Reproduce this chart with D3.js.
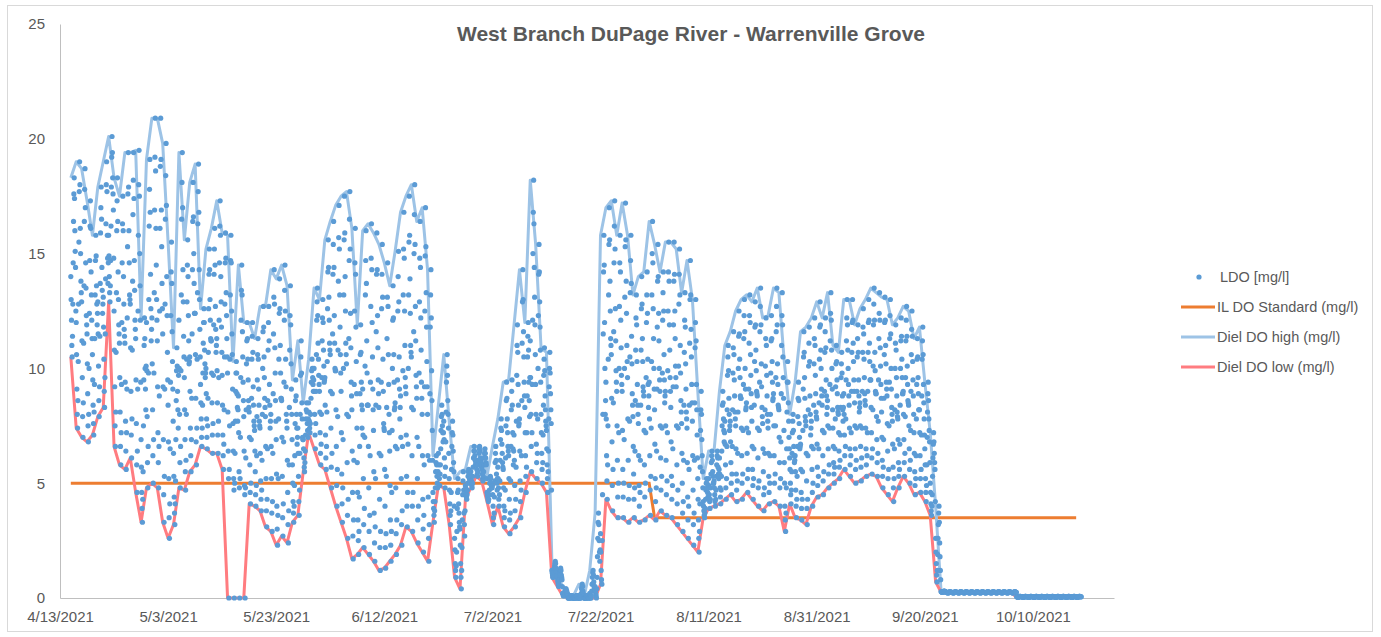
<!DOCTYPE html>
<html><head><meta charset="utf-8">
<script src="https://cdn.jsdelivr.net/npm/d3@7"></script>
<style>
body{margin:0;background:#fff;}
svg text{font-family:"Liberation Sans",Arial,sans-serif;fill:#595959;}
</style>
</head><body>
<svg id="chart" width="1381" height="637"></svg>
<script>
// ---------------- data ----------------
const chartTitle = "West Branch DuPage River - Warrenville Grove";
const seriesNames = ["LDO [mg/l]", "IL DO Standard (mg/l)", "Diel DO high (mg/l)", "Diel DO low (mg/l)"];
const axisStart = "2021-04-13";
const axisEnd = "2021-10-25";
const firstDate = "2021-04-15";           // first day of record (one value per day below)
const xTickLabels = ["4/13/2021","5/3/2021","5/23/2021","6/12/2021","7/2/2021","7/22/2021","8/11/2021","8/31/2021","9/20/2021","10/10/2021"];
const yTickLabels = [0, 5, 10, 15, 20, 25];

const dielHigh = [
18.3,19.0,18.7,17.3,15.8,17.9,19.0,20.1,18.3,17.5,
19.4,19.4,19.5,12.2,19.1,20.9,20.9,19.8,15.5,10.9,
19.4,15.6,18.1,18.9,12.6,15.2,16.1,17.3,15.9,15.8,
10.3,14.5,12.0,12.0,11.3,12.7,12.7,14.3,13.9,14.5,
13.6,9.5,11.2,8.5,10.4,13.5,13.0,15.6,16.4,17.1,
17.5,17.7,16.1,11.9,16.0,16.3,15.9,15.4,14.6,13.6,
15.1,16.8,17.5,18.0,16.4,17.0,14.3,6.2,8.4,10.6,
7.7,5.2,5.5,5.6,6.6,6.6,6.5,5.3,6.6,7.8,
9.4,9.5,11.9,14.3,12.0,18.2,15.4,10.9,10.7,1.6,
1.3,0.4,0.1,0.1,0.6,0.1,1.2,3.7,15.8,17.0,
17.3,15.8,17.2,15.8,13.2,14.0,14.2,16.4,15.4,14.2,
15.5,15.5,15.2,13.3,14.7,13.0,9.0,5.2,6.4,6.4,
9.0,11.0,11.6,12.5,13.0,13.2,12.9,13.5,12.2,12.3,
13.5,13.3,10.3,8.0,9.4,11.6,11.8,12.2,12.9,12.2,
13.3,11.0,10.7,13.0,13.0,11.9,12.6,13.0,13.5,13.3,
13.1,13.0,11.9,12.2,12.7,12.5,11.3,11.8,9.4,7.2,
4.0,0.3,0.27,0.27,0.27,0.27,0.27,0.27,0.27,0.27,
0.27,0.27,0.27,0.27,0.27,0.07,0.07,0.07,0.07,0.07,
0.07,0.07,0.07,0.07,0.07,0.07,0.07
];

const dielLow = [
10.5,7.4,7.0,6.8,7.1,7.9,8.3,12.9,6.6,5.8,
5.6,6.1,4.6,3.3,4.8,5.0,4.8,3.3,2.6,3.2,
4.8,4.7,5.5,5.8,6.6,6.5,6.3,6.3,5.6,0,
0,0,0,4.1,4.0,3.8,3.1,2.9,2.3,2.7,
2.4,3.3,3.6,5.5,7.2,6.5,5.8,5.6,4.8,4.0,
3.3,2.6,1.7,1.9,2.2,1.9,1.6,1.2,1.3,1.6,
1.9,2.3,3.1,2.9,2.4,2.0,1.6,3.3,4.9,4.8,
3.2,0.9,0.4,4.3,4.8,5.3,5.1,4.2,3.2,4.0,
3.1,2.8,3.1,3.5,4.6,5.5,5.2,5.0,4.6,0.9,
0.5,0.1,0,0,0,0,0,0,0.6,4.3,
3.8,3.5,3.5,3.3,3.5,3.3,3.4,3.6,3.4,3.8,
3.6,3.5,3.2,2.9,2.6,2.3,2.0,3.5,3.9,4.0,
4.1,4.3,4.5,4.2,4.3,4.6,4.3,4.0,3.8,4.1,
4.2,4.0,2.9,4.1,3.5,3.4,3.2,4.0,4.4,4.5,
4.8,5.0,5.2,5.6,5.3,5.0,5.1,5.3,5.4,5.3,
4.8,4.5,4.2,4.8,5.3,5.0,4.5,4.6,4.2,3.6,
0.7,0.25,0.22,0.22,0.22,0.22,0.22,0.22,0.22,0.22,
0.22,0.22,0.22,0.22,0.22,0.03,0.03,0.03,0.03,0.03,
0.03,0.03,0.03,0.03,0.03,0.03,0.03
];

const standardValues = [5.0, 3.5];          // IL DO standard before / from the change date
const standardChangeDate = "2021-08-01";

const readingHours = [0,1.5,3,4.5,6,7.5,9,10.5,12,13.5,15,16.5,18,19.5,21,22.5];
const ldoReadings = [
[14.0,13.0,12.1,11.0,10.5,11.4,12.8,14.6,16.4,17.6,18.3,17.4,16.0,15.1,14.4,12.5],
[12.0,10.6,9.1,8.0,7.4,8.6,10.3,12.8,15.5,17.7,19.0,18.0,16.1,15.0,13.8,13.3],
[12.9,11.2,9.6,7.9,7.0,8.5,11.1,13.6,16.4,17.8,18.7,17.0,14.6,13.5,12.3,11.9],
[11.5,10.2,8.9,7.5,6.8,8.0,10.0,12.4,14.7,16.2,17.3,16.1,14.2,13.2,12.1,11.3],
[10.6,9.5,8.4,7.6,7.1,8.1,9.3,11.3,13.2,14.7,15.8,14.9,13.6,12.8,11.9,12.4],
[12.9,11.5,10.1,8.6,7.9,9.2,11.4,13.7,15.9,17.0,17.9,16.5,14.4,13.4,12.4,12.8],
[13.1,11.8,10.4,9.0,8.3,9.6,11.5,13.9,16.3,18.0,19.0,17.7,15.8,14.8,13.7,14.6],
[15.8,14.9,14.0,13.3,12.9,13.6,14.7,16.2,17.9,19.2,20.1,19.4,18.3,17.6,16.9,14.8],
[12.5,10.8,9.2,7.5,6.6,8.1,10.7,13.3,16.0,17.3,18.3,16.4,14.2,13.0,11.9,11.5],
[11.1,9.6,8.1,6.6,5.8,7.2,9.3,12.0,14.6,16.3,17.5,16.0,14.0,12.8,11.7,11.4],
[11.1,9.4,7.7,6.4,5.6,7.2,9.1,12.2,15.3,17.6,19.4,17.9,16.0,14.6,13.2,13.0],
[12.8,10.9,9.0,7.1,6.1,7.8,10.8,13.8,16.7,18.2,19.4,17.4,14.7,13.4,12.1,11.7],
[11.3,9.5,7.6,5.8,4.6,6.4,9.1,12.5,15.8,18.0,19.5,17.5,15.0,13.6,12.1,9.4],
[6.9,5.7,4.6,3.9,3.3,4.3,5.5,7.5,9.5,11.0,12.2,11.3,10.0,9.1,8.2,10.1],
[12.0,9.9,7.9,5.9,4.8,6.6,9.8,13.0,16.2,17.8,19.1,16.8,14.1,12.6,11.2,11.7],
[12.2,10.2,8.2,6.2,5.0,6.9,9.8,13.3,16.9,19.2,20.9,18.6,16.1,14.5,13.0,12.1],
[11.2,9.2,7.2,5.9,4.8,6.6,8.8,12.5,16.1,18.8,20.9,19.1,16.9,15.3,13.7,12.6],
[11.5,9.2,6.9,4.5,3.3,5.3,9.1,12.8,16.5,18.4,19.8,17.1,14.0,12.3,10.7,9.5],
[8.4,6.8,5.2,3.5,2.6,4.1,6.5,9.4,12.3,14.2,15.5,13.7,11.6,10.3,9.1,7.7],
[6.3,5.3,4.4,3.7,3.2,4.1,5.1,6.9,8.6,9.9,10.9,10.1,9.0,8.2,7.4,9.7],
[12.1,10.0,8.0,5.9,4.8,6.6,9.9,13.2,16.5,18.1,19.4,17.0,14.3,12.9,11.4,10.5],
[9.6,8.2,6.9,5.5,4.7,6.0,8.0,10.4,12.9,14.5,15.6,14.0,12.3,11.2,10.2,10.3],
[10.5,9.0,7.4,6.2,5.5,6.9,8.7,11.5,14.3,16.4,18.1,16.6,15.0,13.7,12.4,12.4],
[12.4,10.6,8.7,6.8,5.8,7.4,10.4,13.3,16.3,17.7,18.9,16.8,14.3,13.0,11.7,10.5],
[9.3,8.5,7.8,7.0,6.6,7.4,8.4,9.8,11.1,12.0,12.6,12.0,10.8,10.2,9.6,9.8],
[10.0,8.9,7.8,7.0,6.5,7.5,8.7,10.7,12.6,14.1,15.2,14.3,13.0,12.1,11.3,11.2],
[11.2,9.8,8.5,7.1,6.3,7.6,9.7,11.9,14.1,15.2,16.1,14.5,12.7,11.7,10.7,11.0],
[11.3,9.9,8.5,7.1,6.3,7.7,9.6,12.1,14.6,16.2,17.3,15.8,14.0,12.9,11.8,10.7],
[9.7,8.4,7.1,6.2,5.6,6.7,8.2,10.5,12.8,14.6,15.9,14.8,13.3,12.3,11.3,10.5],
[9.8,8.1,6.4,5.2,0,5.6,7.5,10.4,13.2,14.7,15.8,14.6,12.5,11.5,10.6,9.1],
[7.6,6.4,5.2,4.7,0,5.0,6.3,7.7,9.0,9.8,10.3,9.8,8.9,8.3,7.7,8.2],
[8.8,7.2,5.5,4.8,0,5.2,7.0,9.6,12.1,13.4,14.5,13.2,11.6,10.5,9.4,8.6],
[7.9,6.4,4.9,4.5,0,4.8,6.1,8.2,10.2,11.2,12.0,11.3,10.4,9.5,8.6,8.3],
[8.1,7.0,5.8,4.6,4.1,5.0,6.9,8.7,10.4,11.4,12.0,10.7,9.2,8.4,7.7,7.5],
[7.3,6.4,5.5,4.5,4.0,4.9,6.2,7.9,9.5,10.6,11.3,10.4,9.1,8.4,7.7,7.5],
[7.4,6.3,5.1,4.3,3.8,4.7,6.0,8.0,10.0,11.6,12.7,11.8,10.5,9.6,8.7,8.3],
[7.9,6.6,5.2,3.8,3.1,4.3,6.5,8.6,10.8,12.0,12.7,11.2,9.3,8.4,7.4,7.7],
[8.0,6.6,5.2,3.7,2.9,4.2,6.3,8.9,11.5,13.1,14.3,12.8,10.9,9.8,8.6,7.7],
[6.9,5.4,4.0,3.0,2.3,3.6,5.2,7.8,10.4,12.4,13.9,12.6,11.0,9.8,8.7,8.7],
[8.6,7.0,5.3,3.5,2.7,4.1,6.8,9.4,12.1,13.4,14.5,12.5,10.4,9.2,8.0,7.7],
[7.4,6.0,4.6,3.2,2.4,3.8,5.8,8.3,10.8,12.3,13.6,11.9,10.2,9.1,8.0,6.9],
[5.8,5.0,4.2,3.7,3.3,4.0,4.9,6.2,7.6,8.6,9.5,8.8,8.0,7.4,6.7,7.0],
[7.4,6.3,5.3,4.2,3.6,4.7,6.3,8.0,9.7,10.5,11.2,9.8,8.5,7.8,7.0,6.9],
[6.9,6.5,6.1,5.7,5.5,5.9,6.4,7.1,7.8,8.2,8.5,8.1,7.6,7.3,7.0,7.8],
[8.5,8.1,7.7,7.4,7.2,7.6,8.0,8.7,9.4,9.9,10.4,10.0,9.6,9.3,9.0,9.5],
[10.0,9.0,8.0,7.1,6.5,7.6,9.0,10.6,12.1,12.9,13.5,12.3,11.1,10.4,9.7,9.3],
[9.0,8.1,7.2,6.3,5.8,6.7,8.0,9.6,11.2,12.2,13.0,12.0,10.8,10.1,9.4,9.5],
[9.6,8.4,7.1,6.1,5.6,6.6,8.1,10.3,12.6,14.2,15.6,14.4,13.1,12.1,11.1,10.8],
[10.6,9.0,7.4,5.7,4.8,6.3,8.9,11.5,14.1,15.4,16.4,14.4,12.3,11.1,10.0,9.9],
[9.9,8.2,6.6,4.9,4.0,5.6,7.9,10.8,13.8,15.7,17.1,15.2,13.2,11.8,10.6,9.8],
[9.0,7.2,5.4,4.1,3.3,4.8,6.9,10.0,13.2,15.6,17.5,15.9,14.0,12.5,11.1,10.6],
[10.2,8.0,5.9,3.6,2.6,4.3,7.9,11.3,14.7,16.5,17.7,15.2,12.4,10.9,9.4,8.8],
[8.2,6.4,4.6,2.7,1.7,3.4,6.0,9.3,12.5,14.6,16.1,14.1,11.8,10.3,8.9,7.4],
[5.9,4.6,3.4,2.5,1.9,2.9,4.4,6.6,8.9,10.6,11.9,10.7,9.4,8.4,7.4,8.2],
[9.1,7.1,5.2,3.2,2.2,3.9,7.0,10.1,13.2,14.7,16.0,13.7,11.2,9.8,8.4,8.4],
[8.4,6.6,4.8,2.9,1.9,3.6,6.2,9.4,12.7,14.8,16.3,14.3,12.0,10.5,9.1,8.2],
[7.3,5.5,3.7,2.4,1.6,3.1,5.2,8.4,11.6,14.1,15.9,14.3,12.3,10.9,9.5,8.9],
[8.3,6.3,4.3,2.2,1.2,2.9,6.2,9.4,12.6,14.1,15.4,13.1,10.4,9.0,7.6,7.4],
[7.3,5.6,4.0,2.2,1.3,2.8,5.3,8.3,11.3,13.1,14.6,12.7,10.6,9.3,8.0,7.2],
[6.4,4.9,3.4,2.3,1.6,2.9,4.6,7.3,10.0,12.1,13.6,12.2,10.6,9.4,8.2,8.3],
[8.5,6.6,4.8,2.8,1.9,3.4,6.5,9.5,12.5,14.0,15.1,12.9,10.5,9.1,7.8,8.3],
[8.8,7.0,5.2,3.2,2.3,3.8,6.6,9.9,13.2,15.2,16.8,14.8,12.5,11.0,9.6,9.2],
[8.9,7.1,5.3,4.0,3.1,4.6,6.7,10.0,13.2,15.5,17.5,15.8,13.9,12.4,11.0,10.7],
[10.5,8.3,6.2,4.0,2.9,4.6,8.2,11.6,15.0,16.7,18.0,15.4,12.7,11.2,9.7,9.2],
[8.7,7.0,5.2,3.4,2.4,4.0,6.6,9.8,12.9,14.8,16.4,14.4,12.2,10.8,9.4,8.7],
[8.0,6.2,4.3,3.0,2.0,3.6,5.8,9.2,12.5,14.9,17.0,15.3,13.3,11.8,10.3,9.2],
[8.0,6.2,4.4,2.6,1.6,3.2,6.0,8.9,11.8,13.2,14.3,12.2,9.9,8.6,7.3,6.0],
[4.6,4.2,3.9,3.6,3.3,3.8,4.2,4.8,5.5,5.9,6.2,5.8,5.3,5.0,4.8,5.5],
[6.3,5.8,5.4,5.2,4.9,5.4,5.8,6.5,7.3,7.9,8.4,8.0,7.5,7.2,6.8,7.2],
[7.7,6.9,6.1,5.3,4.8,5.7,6.8,8.1,9.4,10.1,10.6,9.7,8.6,8.0,7.4,6.3],
[5.2,4.7,4.1,3.6,3.2,3.8,4.6,5.6,6.6,7.2,7.7,7.1,6.4,5.9,5.5,4.0],
[2.6,2.1,1.5,1.2,0.9,1.4,2.0,2.9,3.9,4.6,5.2,4.7,4.1,3.7,3.3,3.1],
[3.0,2.3,1.5,0.9,0.4,1.2,2.2,3.4,4.5,5.1,5.5,4.7,3.7,3.2,2.7,3.8],
[4.9,4.8,4.6,4.4,4.3,4.5,4.7,5.0,5.3,5.5,5.6,5.4,5.2,5.1,5.0,5.2],
[5.5,5.3,5.1,4.9,4.8,5.0,5.3,5.7,6.1,6.4,6.6,6.4,6.2,6.0,5.8,5.9],
[6.0,5.8,5.6,5.4,5.3,5.5,5.8,6.0,6.3,6.5,6.6,6.4,6.1,6.0,5.9,5.8],
[5.7,5.6,5.4,5.2,5.1,5.3,5.5,5.8,6.1,6.3,6.5,6.3,6.1,5.9,5.8,5.2],
[4.6,4.5,4.4,4.3,4.2,4.3,4.5,4.7,5.0,5.2,5.3,5.2,5.0,4.9,4.8,4.8],
[4.9,4.5,4.0,3.5,3.2,3.7,4.4,5.1,5.9,6.3,6.6,6.0,5.4,5.0,4.7,5.2],
[5.7,5.2,4.8,4.3,4.0,4.5,5.1,6.0,6.9,7.4,7.8,7.3,6.7,6.3,5.9,5.7],
[5.6,4.8,4.0,3.5,3.1,3.8,4.7,6.1,7.5,8.6,9.4,8.7,7.8,7.2,6.6,6.4],
[6.2,5.2,4.3,3.4,2.8,3.7,5.1,6.6,8.2,9.0,9.5,8.4,7.2,6.5,5.8,6.4],
[7.1,6.0,4.9,3.8,3.1,4.3,5.7,7.7,9.7,11.0,11.9,10.7,9.3,8.4,7.5,7.6],
[7.8,6.4,5.1,4.2,3.5,4.7,6.2,8.6,11.1,12.9,14.3,13.0,11.6,10.5,9.4,8.8],
[8.3,7.2,6.2,5.3,4.6,5.7,7.2,8.8,10.5,11.4,12.0,10.8,9.4,8.6,7.9,9.6],
[11.2,9.6,8.0,6.6,5.5,7.2,9.3,12.1,15.0,16.8,18.2,16.3,14.4,13.1,11.9,10.6],
[9.3,8.0,6.7,5.9,5.2,6.3,7.8,10.0,12.3,14.1,15.4,14.2,12.9,11.8,10.8,9.4],
[8.0,7.2,6.3,5.6,5.0,5.9,7.1,8.4,9.7,10.4,10.9,9.9,8.8,8.2,7.7,7.5],
[7.3,6.5,5.8,5.2,4.6,5.5,6.4,7.8,9.2,10.0,10.7,9.8,8.9,8.2,7.6,4.7],
[1.2,1.1,1.0,0.9,0.9,1.0,1.1,1.3,1.4,1.5,1.6,1.5,1.3,1.2,1.1,1.0],
[0.9,0.8,0.7,0.6,0.5,0.6,0.8,1.0,1.1,1.2,1.3,1.2,1.0,0.9,0.8,0.5],
[0.2,0.2,0.1,0.1,0.1,0.1,0.2,0.2,0.3,0.4,0.4,0.3,0.3,0.2,0.2,0.1],
[0,0,0,0,0,0,0,0,0.1,0.1,0.1,0.1,0.1,0,0,0],
[0,0,0,0,0,0,0,0,0.1,0.1,0.1,0.1,0,0,0,0],
[0.1,0,0,0,0,0,0.1,0.2,0.4,0.5,0.6,0.5,0.3,0.2,0.1,0],
[0,0,0,0,0,0,0,0,0.1,0.1,0.1,0.1,0,0,0,0],
[0.2,0.1,0.1,0,0,0.1,0.3,0.6,0.9,1.1,1.2,1.0,0.7,0.5,0.4,0.3],
[0.5,0.3,0.2,0.1,0,0.4,0.9,1.8,2.6,3.3,3.7,3.2,2.5,2.0,1.6,2.1],
[2.8,2.0,1.2,0.8,0.6,2.5,4.5,8.0,11.5,14.2,15.8,14.5,12.0,10.0,8.0,8.6],
[9.4,7.8,6.2,5.1,4.3,5.8,7.5,10.4,13.2,15.4,17.0,15.6,13.8,12.5,11.3,11.0],
[10.6,8.7,6.8,4.9,3.8,5.6,8.5,11.6,14.6,16.2,17.3,15.2,12.6,11.2,9.9,9.4],
[9.0,7.5,6.0,4.4,3.5,5.0,7.2,10.0,12.7,14.6,15.8,14.2,12.1,10.9,9.7,9.3],
[9.0,7.3,5.6,4.4,3.5,5.0,6.9,10.0,13.1,15.3,17.2,15.6,13.8,12.4,11.0,10.3],
[9.6,7.8,6.0,4.3,3.3,4.9,7.7,10.5,13.3,14.7,15.8,13.7,11.4,10.2,8.9,8.4],
[7.9,6.6,5.4,4.3,3.5,4.8,6.4,8.6,10.8,12.2,13.2,11.9,10.3,9.3,8.4,8.0],
[7.6,6.2,4.9,4.0,3.3,4.6,6.0,8.4,10.8,12.6,14.0,12.8,11.3,10.3,9.2,9.0],
[8.8,7.3,5.8,4.4,3.4,5.0,7.2,9.6,12.0,13.2,14.2,12.4,10.4,9.3,8.3,8.8],
[9.4,7.8,6.2,4.7,3.6,5.3,7.4,10.3,13.2,15.0,16.4,14.6,12.6,11.3,10.0,9.1],
[8.2,6.7,5.2,4.2,3.4,4.8,6.4,9.1,11.8,13.8,15.4,14.0,12.4,11.2,10.0,9.5],
[9.0,7.5,6.1,4.7,3.8,5.3,7.4,9.8,12.1,13.3,14.2,12.5,10.6,9.5,8.5,8.8],
[9.0,7.5,6.0,4.5,3.6,5.1,7.2,9.9,12.5,14.2,15.5,13.8,11.9,10.8,9.6,9.0],
[8.3,6.8,5.3,4.3,3.5,4.9,6.5,9.2,11.9,13.8,15.5,14.1,12.5,11.3,10.1,9.6],
[9.2,7.5,5.8,4.1,3.2,4.7,7.4,10.1,12.8,14.1,15.2,13.2,11.0,9.8,8.6,8.1],
[7.6,6.3,5.0,3.7,2.9,4.2,6.0,8.4,10.7,12.1,13.3,11.8,10.2,9.1,8.1,7.8],
[7.4,5.9,4.4,3.4,2.6,4.0,5.6,8.4,11.1,13.0,14.7,13.2,11.7,10.5,9.3,8.5],
[7.7,6.2,4.7,3.2,2.3,3.7,6.0,8.5,10.9,12.0,13.0,11.2,9.3,8.2,7.1,6.1],
[5.2,4.3,3.4,2.6,2.0,2.9,4.1,5.7,7.3,8.2,9.0,8.0,6.9,6.2,5.5,4.8],
[4.2,4.0,3.8,3.6,3.5,3.7,3.9,4.3,4.7,5.0,5.2,5.0,4.8,4.6,4.4,4.8],
[5.2,4.9,4.5,4.2,3.9,4.3,4.8,5.4,5.9,6.2,6.4,6.0,5.5,5.3,5.0,5.0],
[5.1,4.8,4.5,4.2,4.0,4.3,4.7,5.3,5.8,6.2,6.4,6.1,5.7,5.4,5.2,5.6],
[6.1,5.4,4.8,4.4,4.1,4.7,5.3,6.4,7.5,8.4,9.0,8.5,7.8,7.3,6.8,7.2],
[7.7,6.7,5.8,4.8,4.3,5.2,6.6,8.2,9.7,10.5,11.0,9.9,8.7,8.0,7.3,7.5],
[7.7,6.8,5.9,5.0,4.5,5.4,6.6,8.2,9.8,10.9,11.6,10.6,9.5,8.8,8.1,7.8],
[7.5,6.5,5.4,4.7,4.2,5.1,6.3,8.1,10.0,11.4,12.5,11.5,10.4,9.6,8.8,8.7],
[8.7,7.4,6.2,5.0,4.3,5.4,7.3,9.3,11.3,12.3,13.0,11.6,10.0,9.1,8.2,8.3],
[8.5,7.4,6.3,5.2,4.6,5.6,7.2,9.1,11.1,12.3,13.2,12.0,10.6,9.7,8.9,8.3],
[7.7,6.6,5.6,4.9,4.3,5.2,6.5,8.4,10.3,11.8,12.9,11.9,10.8,9.9,9.0,8.9],
[8.8,7.4,6.1,4.8,4.0,5.1,7.3,9.4,11.6,12.7,13.5,11.9,10.2,9.2,8.3,7.9],
[7.6,6.5,5.5,4.5,3.8,4.8,6.3,8.2,10.1,11.3,12.2,11.0,9.7,8.8,8.0,7.7],
[7.4,6.3,5.3,4.6,4.1,5.0,6.2,8.0,9.8,11.2,12.3,11.3,10.3,9.4,8.6,8.7],
[8.9,7.5,6.2,5.0,4.2,5.4,7.5,9.6,11.6,12.7,13.5,11.9,10.2,9.3,8.4,8.3],
[8.2,7.0,5.9,4.8,4.0,5.2,6.8,8.9,11.0,12.3,13.3,11.9,10.5,9.6,8.7,7.3],
[5.9,5.0,4.0,3.4,2.9,3.7,4.8,6.5,8.1,9.4,10.3,9.4,8.5,7.7,7.0,6.5],
[6.1,5.6,5.0,4.5,4.1,4.7,5.5,6.3,7.2,7.7,8.0,7.3,6.6,6.2,5.9,6.0],
[6.2,5.5,4.7,4.0,3.5,4.3,5.3,6.6,7.9,8.7,9.4,8.6,7.6,7.0,6.5,6.6],
[6.7,5.6,4.6,3.9,3.4,4.3,5.5,7.3,9.1,10.5,11.6,10.7,9.6,8.7,7.9,7.7],
[7.5,6.3,5.1,3.9,3.2,4.3,6.2,8.2,10.1,11.1,11.8,10.3,8.8,8.0,7.1,7.4],
[7.7,6.6,5.6,4.6,4.0,5.0,6.5,8.4,10.2,11.3,12.2,11.0,9.7,8.9,8.1,7.9],
[7.8,6.7,5.7,4.9,4.4,5.3,6.5,8.5,10.4,11.8,12.9,11.9,10.8,10.0,9.1,8.8],
[8.4,7.3,6.2,5.1,4.5,5.5,7.2,9.0,10.7,11.6,12.2,10.9,9.5,8.8,8.0,8.3],
[8.6,7.5,6.5,5.4,4.8,5.8,7.4,9.3,11.2,12.4,13.3,12.1,10.8,10.0,9.1,8.2],
[7.4,6.6,5.9,5.4,5.0,5.7,6.5,7.8,9.2,10.2,11.0,10.3,9.5,8.9,8.3,8.1],
[8.0,7.2,6.4,5.7,5.2,6.0,7.1,8.3,9.6,10.2,10.7,9.8,8.8,8.2,7.7,8.3],
[8.9,8.0,7.1,6.2,5.6,6.6,7.8,9.5,11.2,12.2,13.0,11.9,10.8,10.0,9.3,8.8],
[8.4,7.4,6.5,5.8,5.3,6.2,7.2,9.0,10.7,12.0,13.0,12.1,11.1,10.3,9.5,9.0],
[8.5,7.5,6.5,5.6,5.0,6.0,7.4,9.0,10.5,11.3,11.9,10.7,9.5,8.8,8.1,8.3],
[8.5,7.5,6.6,5.7,5.1,6.1,7.4,9.0,10.7,11.8,12.6,11.5,10.4,9.6,8.9,8.6],
[8.4,7.4,6.5,5.8,5.3,6.2,7.2,9.0,10.7,12.0,13.0,12.1,11.1,10.3,9.5,9.5],
[9.5,8.3,7.2,6.1,5.4,6.5,8.2,10.1,11.9,12.8,13.5,12.1,10.7,9.9,9.0,8.9],
[8.9,7.9,6.9,5.9,5.3,6.3,7.7,9.5,11.3,12.4,13.3,12.1,10.9,10.1,9.3,8.7],
[8.1,7.0,6.0,5.3,4.8,5.7,6.9,8.7,10.6,12.0,13.1,12.1,11.0,10.2,9.4,9.1],
[8.8,7.6,6.4,5.2,4.5,5.6,7.5,9.4,11.3,12.3,13.0,11.5,10.0,9.1,8.3,8.0],
[7.7,6.7,5.7,4.8,4.2,5.2,6.5,8.2,10.0,11.1,11.9,10.8,9.6,8.8,8.1,7.9],
[7.8,6.9,5.9,5.3,4.8,5.6,6.7,8.4,10.0,11.2,12.2,11.4,10.4,9.6,8.9,8.9],
[9.0,8.0,6.9,5.9,5.3,6.3,7.9,9.6,11.2,12.1,12.7,11.4,10.1,9.3,8.6,8.5],
[8.4,7.5,6.5,5.6,5.0,6.0,7.3,9.0,10.6,11.7,12.5,11.4,10.3,9.5,8.8,8.0],
[7.2,6.3,5.5,4.9,4.5,5.2,6.2,7.8,9.3,10.4,11.3,10.5,9.6,8.9,8.2,8.2],
[8.2,7.2,6.2,5.2,4.6,5.6,7.1,8.8,10.4,11.2,11.8,10.6,9.3,8.5,7.8,7.1],
[6.5,5.8,5.2,4.6,4.2,4.9,5.8,7.0,8.1,8.9,9.4,8.6,7.8,7.3,6.8,5.9],
[5.0,4.6,4.1,3.8,3.6,4.0,4.5,5.3,6.1,6.7,7.2,6.8,6.3,5.9,5.6,4.2],
[2.6,2.0,1.5,1.0,0.7,1.2,1.9,2.6,3.2,3.7,4.0,3.3,2.4,1.8,1.2,0.8],
[0.28,0.27,0.26,0.25,0.25,0.25,0.26,0.27,0.29,0.3,0.3,0.29,0.28,0.27,0.27,0.26],
[0.25,0.25,0.24,0.23,0.22,0.22,0.23,0.25,0.26,0.27,0.27,0.27,0.26,0.26,0.25,0.25],
[0.25,0.25,0.24,0.23,0.22,0.22,0.23,0.25,0.26,0.27,0.27,0.27,0.26,0.26,0.25,0.25],
[0.25,0.25,0.24,0.23,0.22,0.22,0.23,0.25,0.26,0.27,0.27,0.27,0.26,0.26,0.25,0.25],
[0.25,0.25,0.24,0.23,0.22,0.22,0.23,0.25,0.26,0.27,0.27,0.27,0.26,0.26,0.25,0.25],
[0.25,0.25,0.24,0.23,0.22,0.22,0.23,0.25,0.26,0.27,0.27,0.27,0.26,0.26,0.25,0.25],
[0.25,0.25,0.24,0.23,0.22,0.22,0.23,0.25,0.26,0.27,0.27,0.27,0.26,0.26,0.25,0.25],
[0.25,0.25,0.24,0.23,0.22,0.22,0.23,0.25,0.26,0.27,0.27,0.27,0.26,0.26,0.25,0.25],
[0.25,0.25,0.24,0.23,0.22,0.22,0.23,0.25,0.26,0.27,0.27,0.27,0.26,0.26,0.25,0.25],
[0.25,0.25,0.24,0.23,0.22,0.22,0.23,0.25,0.26,0.27,0.27,0.27,0.26,0.26,0.25,0.25],
[0.25,0.25,0.24,0.23,0.22,0.22,0.23,0.25,0.26,0.27,0.27,0.27,0.26,0.26,0.25,0.25],
[0.25,0.25,0.24,0.23,0.22,0.22,0.23,0.25,0.26,0.27,0.27,0.27,0.26,0.26,0.25,0.25],
[0.25,0.25,0.24,0.23,0.22,0.22,0.23,0.25,0.26,0.27,0.27,0.27,0.26,0.26,0.25,0.25],
[0.25,0.25,0.24,0.23,0.22,0.22,0.23,0.25,0.26,0.27,0.27,0.27,0.26,0.26,0.25,0.25],
[0.05,0.05,0.04,0.04,0.03,0.03,0.04,0.05,0.06,0.07,0.07,0.07,0.06,0.06,0.05,0.05],
[0.05,0.05,0.04,0.04,0.03,0.03,0.04,0.05,0.06,0.07,0.07,0.07,0.06,0.06,0.05,0.05],
[0.05,0.05,0.04,0.04,0.03,0.03,0.04,0.05,0.06,0.07,0.07,0.07,0.06,0.06,0.05,0.05],
[0.05,0.05,0.04,0.04,0.03,0.03,0.04,0.05,0.06,0.07,0.07,0.07,0.06,0.06,0.05,0.05],
[0.05,0.05,0.04,0.04,0.03,0.03,0.04,0.05,0.06,0.07,0.07,0.07,0.06,0.06,0.05,0.05],
[0.05,0.05,0.04,0.04,0.03,0.03,0.04,0.05,0.06,0.07,0.07,0.07,0.06,0.06,0.05,0.05],
[0.05,0.05,0.04,0.04,0.03,0.03,0.04,0.05,0.06,0.07,0.07,0.07,0.06,0.06,0.05,0.05],
[0.05,0.05,0.04,0.04,0.03,0.03,0.04,0.05,0.06,0.07,0.07,0.07,0.06,0.06,0.05,0.05],
[0.05,0.05,0.04,0.04,0.03,0.03,0.04,0.05,0.06,0.07,0.07,0.07,0.06,0.06,0.05,0.05],
[0.05,0.05,0.04,0.04,0.03,0.03,0.04,0.05,0.06,0.07,0.07,0.07,0.06,0.06,0.05,0.05],
[0.05,0.05,0.04,0.04,0.03,0.03,0.04,0.05,0.06,0.07,0.07,0.07,0.06,0.06,0.05,0.05],
[0.05,0.05,0.04,0.04,0.03,0.03,0.04,0.05,0.06,0.07,0.07,0.07,0.06,0.06,0.05,0.05]
];

const colors = { ldo: "#5B9BD5", standard: "#ED7D31", high: "#9DC3E6", low: "#FF7C80" };

// ---------------- chart ----------------
const W = 1381, H = 637;
const margin = { left: 60, right: 267, top: 24, bottom: 39 };
const svg = d3.select("#chart");
const parse = d3.timeParse("%Y-%m-%d");
const parseTick = d3.timeParse("%-m/%-d/%Y");
const fmtTick = d3.timeFormat("%-m/%-d/%Y");

svg.append("rect").attr("x", 7.5).attr("y", 5.5).attr("width", W - 16).attr("height", H - 11)
  .attr("fill", "#fff").attr("stroke", "#d9d9d9").attr("stroke-width", 1);

const x = d3.scaleTime().domain([parse(axisStart), parse(axisEnd)]).range([margin.left, W - margin.right]);
const y = d3.scaleLinear().domain([0, 25]).range([H - margin.bottom, margin.top]);

const t0 = parse(firstDate);
const days = dielHigh.map((_, i) => d3.timeDay.offset(t0, i));
const change = parse(standardChangeDate);
const highPts = days.map((d, i) => ({ date: d, v: dielHigh[i] }));
const lowPts = days.map((d, i) => ({ date: d, v: dielLow[i] }));
const stdPts = days.map(d => ({ date: d, v: d < change ? standardValues[0] : standardValues[1] }));
const ldoPts = [];
ldoReadings.forEach((arr, i) => arr.forEach((v, k) =>
  ldoPts.push({ date: d3.timeMinute.offset(days[i], readingHours[k] * 60), v })));

// axes
const yAxis = d3.axisLeft(y).tickValues(yTickLabels).tickSize(0).tickPadding(15).tickFormat(d3.format("d"));
const gy = svg.append("g").attr("transform", `translate(${margin.left},0)`).call(yAxis);
gy.select(".domain").attr("stroke", "#bfbfbf");
gy.selectAll("text").attr("font-size", 15).attr("fill", "#595959").style("font-family", "Liberation Sans, Arial, sans-serif");

const xAxis = d3.axisBottom(x).tickValues(xTickLabels.map(parseTick)).tickFormat(fmtTick).tickSize(0).tickPadding(13);
const gx = svg.append("g").attr("transform", `translate(0,${H - margin.bottom})`).call(xAxis);
gx.select(".domain").attr("stroke", "#bfbfbf");
gx.selectAll("text").attr("font-size", 15).attr("fill", "#595959").style("font-family", "Liberation Sans, Arial, sans-serif");

// lines
const line = d3.line().x(d => x(d.date)).y(d => y(d.v));
svg.append("path").datum(stdPts).attr("d", line).attr("fill", "none").attr("stroke", colors.standard).attr("stroke-width", 3);
svg.append("path").datum(highPts).attr("d", line).attr("fill", "none").attr("stroke", colors.high).attr("stroke-width", 3).attr("stroke-linejoin", "round");
svg.append("path").datum(lowPts).attr("d", line).attr("fill", "none").attr("stroke", colors.low).attr("stroke-width", 3).attr("stroke-linejoin", "round");

// scatter
svg.append("g").selectAll("circle").data(ldoPts).join("circle")
  .attr("cx", d => x(d.date)).attr("cy", d => y(d.v)).attr("r", 2.6).attr("fill", colors.ldo);

// title
svg.append("text").attr("x", 691).attr("y", 41).attr("text-anchor", "middle")
  .attr("font-size", 21).attr("font-weight", "bold").attr("fill", "#595959").text(chartTitle);

// legend
const lg = svg.append("g");
const legendKeys = ["ldo", "standard", "high", "low"];
legendKeys.forEach((k, i) => {
  const cy = 277 + i * 30;
  if (k === "ldo") {
    lg.append("circle").attr("cx", 1199).attr("cy", cy).attr("r", 2.6).attr("fill", colors.ldo);
  } else {
    lg.append("line").attr("x1", 1181).attr("x2", 1215).attr("y1", cy).attr("y2", cy)
      .attr("stroke", colors[k]).attr("stroke-width", 3);
  }
  lg.append("text").attr("x", k === "ldo" ? 1220 : 1217).attr("y", cy).attr("dy", "0.35em")
    .attr("font-size", 14.5).attr("fill", "#595959").text(seriesNames[i]);
});
</script>
</body></html>
